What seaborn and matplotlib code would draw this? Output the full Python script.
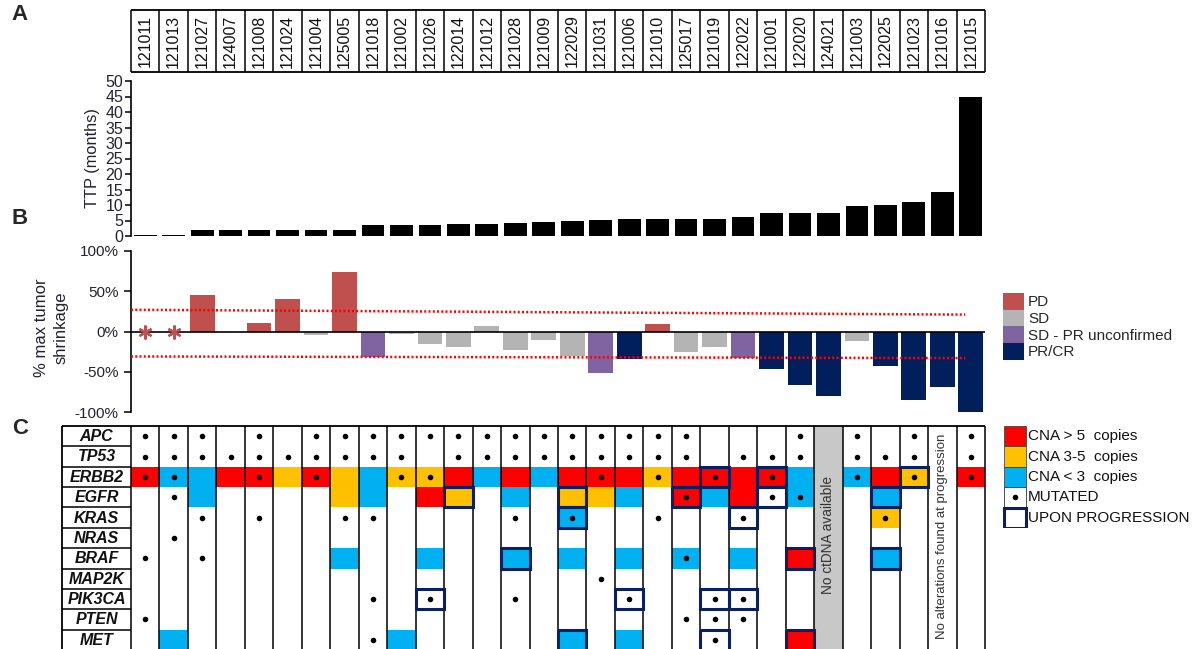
import numpy as np
import pandas as pd
import matplotlib
matplotlib.use("Agg")
import matplotlib.pyplot as plt
import seaborn as sns
from matplotlib.patches import Rectangle, Patch

sns.set_theme(style="white")
plt.rcParams['font.family'] = ['Liberation Sans', 'DejaVu Sans']

# patients, in order of TTP
patients = ["121011", "121013", "121027", "124007", "121008", "121024", "121004", "125005",
            "121018", "121002", "121026", "122014", "121012", "121028", "121009", "122029",
            "121031", "121006", "121010", "125017", "121019", "122022", "121001", "122020",
            "124021", "121003", "122025", "121023", "121016", "121015"]

# panel A: time to progression (months)
ttp_months = [0.4, 0.4, 1.8, 1.8, 2.0, 2.0, 2.0, 2.0, 3.7, 3.7, 3.7, 3.8, 3.8, 4.3, 4.6, 4.9,
              5.1, 5.4, 5.4, 5.4, 5.6, 6.0, 7.3, 7.3, 7.3, 9.6, 9.9, 11.0, 14.2, 45.0]

# panel B: % max tumor shrinkage and response
shrinkage = [np.nan, np.nan, 45, np.nan, 10, 40, -4, 74, -32, -2.5, -15, -19, 7, -22.5, -10, -30,
             -52, -34, 9, -25, -19, -33, -46, -67, -80, -12, -43, -85, -69, -100]
response = [None, None, "PD", None, "PD", "PD", "SD", "PD", "SD - PR unconfirmed", "SD", "SD", "SD",
            "SD", "SD", "SD", "SD", "SD - PR unconfirmed", "PR/CR", "PD", "SD", "SD",
            "SD - PR unconfirmed", "PR/CR", "PR/CR", "PR/CR", "SD", "PR/CR", "PR/CR", "PR/CR", "PR/CR"]
resp_order = ["PD", "SD", "SD - PR unconfirmed", "PR/CR"]
resp_colors = ["#C0504D", "#B4B4B4", "#8064A2", "#001F5C"]
not_evaluable = ["121011", "121013"]
pd_cutoff = [27, 21]
pr_cutoff = [-31, -33]

# panel C: ctDNA alterations, one string per gene (one char per patient)
genes = ["APC", "TP53", "ERBB2", "EGFR", "KRAS", "NRAS", "BRAF", "MAP2K", "PIK3CA", "PTEN", "MET"]
# R: CNA > 5, O: CNA 3-5, B: CNA < 3
cna_rows = [
    "..............................",
    "..............................",
    "RBBRROROBOORBRBRRRORRRRB.BRO.R",
    "..B....OB.RO.B.OOB.RBR.B..B...",
    "...............B..........O...",
    "..............................",
    ".......B..B..B.B.B.B.B.R..B...",
    "..............................",
    "..............................",
    "..............................",
    ".B.......B.....B.B.....R......",
]
# x: mutated
mut_rows = [
    "xxx.x.xxxxxxxxxxxxxx...x.x.x.x",
    "xxxxxxxxxx.xxxxxxxxx.xxx.xxx.x",
    "xx..x.x..xx.....x.x.x.x..x.x.x",
    ".x.................x..xx......",
    "..x.x..xx....x.x..x..x....x...",
    ".x............................",
    "x.x................x..........",
    "................x.............",
    "........x.x..x...x..xx........",
    "x..................xxx........",
    "........x...........x.........",
]
# p: found upon progression
prog_rows = [
    "..............................",
    "..............................",
    "....................p.p....p..",
    "...........p...p...p..p...p...",
    "...............p.....p........",
    "..............................",
    ".............p.........p..p...",
    "..............................",
    "..........p......p..pp........",
    "..............................",
    "...............p....p..p......",
]
cna_codes = "ROB"
cna_colors = ["#FF0000", "#FFC000", "#00B0F0"]
cna_labels = ["CNA > 5  copies", "CNA 3-5  copies", "CNA < 3  copies"]
no_ctdna = "124021"
no_alterations = "121016"
navy = "#0A2060"

W, H = 1194, 649
fig = plt.figure(figsize=(W / 100, H / 100), dpi=100)


def px_axes(x0, y0, x1, y1):
    return fig.add_axes([x0 / W, 1 - y1 / H, (x1 - x0) / W, (y1 - y0) / H])


n = len(patients)
X0, X1 = 131, 985

# header with patient ids
ax_h = px_axes(X0, 10, X1, 72)
ax_h.set_xlim(-0.5, n - 0.5)
ax_h.set_ylim(0, 1)
ax_h.axis('off')
for i, p in enumerate(patients):
    ax_h.text(i, 0.5, p, rotation=90, ha='center', va='center', fontsize=11.5, color='#111111')
ax_h.vlines(np.arange(n + 1) - 0.5, 0, 1, color='black', lw=1.1, clip_on=False)
ax_h.hlines([0, 1], -0.5, n - 0.5, color='black', lw=1.3, clip_on=False)

# A: TTP bars
ax_t = px_axes(X0, 81, X1, 236)
sns.barplot(x=patients, y=ttp_months, order=patients, color='black', width=0.8,
            saturation=1, linewidth=0, ax=ax_t)
ax_t.set_xlim(-0.5, n - 0.5)
ax_t.set_ylim(0, 50)
ax_t.set_yticks(range(0, 51, 5))
ax_t.set_xticks([])
ax_t.set_xlabel('')
for s in ['top', 'right', 'bottom']:
    ax_t.spines[s].set_visible(False)
ax_t.spines['left'].set_color('black')
ax_t.spines['left'].set_linewidth(1.2)
ax_t.tick_params(axis='y', left=True, direction='out', length=4, width=1.1,
                 labelsize=11.5, pad=1.5, colors='black', labelcolor='#222233')
fig.text(92 / W, 1 - 158 / H, "TTP (months)", rotation=90, ha='center', va='center',
         fontsize=11.8, color='#222233')

# B: waterfall
wf = pd.DataFrame({'patient': patients, 'shrink': shrinkage, 'response': response})
wf = wf.dropna(subset=['shrink'])
ax_w = px_axes(X0, 251, X1, 412)
sns.barplot(data=wf, x='patient', y='shrink', hue='response', order=patients,
            hue_order=resp_order, palette=dict(zip(resp_order, resp_colors)), dodge=False,
            width=0.87, saturation=1, linewidth=0, legend=False, ax=ax_w)
ax_w.set_xlim(-0.5, n - 0.5)
ax_w.set_ylim(-100, 100)
ax_w.set_yticks([-100, -50, 0, 50, 100])
ax_w.set_yticklabels([f"{v}%" for v in [-100, -50, 0, 50, 100]])
ax_w.set_xticks([])
ax_w.set_xlabel('')
ax_w.set_ylabel('')
for s in ['top', 'right', 'bottom']:
    ax_w.spines[s].set_visible(False)
ax_w.spines['left'].set_color('black')
ax_w.spines['left'].set_linewidth(1.2)
ax_w.tick_params(axis='y', left=True, direction='out', length=5, width=1.1,
                 labelsize=11, pad=4, colors='black', labelcolor='#222233')
ax_w.axhline(0, color='black', lw=1.2, zorder=3)
ax_w.plot([-0.5, n - 1.2], pd_cutoff, color='red', lw=1.8, ls=(0, (0.8, 0.9)), zorder=4)
ax_w.plot([-0.5, n - 1.2], pr_cutoff, color='red', lw=1.8, ls=(0, (0.8, 0.9)), zorder=4)
ax_w.plot([patients.index(p) for p in not_evaluable], [0] * len(not_evaluable), ls='none',
          marker=(6, 2, 0), ms=10, mew=1.6, color=resp_colors[0], zorder=5)
fig.text(51 / W, 1 - 328 / H, "% max tumor\nshrinkage", rotation=90, ha='center', va='center',
         fontsize=12, linespacing=1.35, color='#222233')
ax_w.legend(handles=[Patch(color=c, lw=0) for c in resp_colors], labels=resp_order,
            loc='upper left', bbox_to_anchor=(1003 / W, 1 - 293 / H), bbox_transform=fig.transFigure,
            frameon=False, fontsize=11, handlelength=1.4, handleheight=1.3, labelspacing=0,
            handletextpad=0.25, borderpad=0, borderaxespad=0)

# C: oncoprint
ax_o = px_axes(62, 426, X1, 650)
col_w = (X1 - X0) / n
lab_w = (X0 - 62) / col_w
ax_o.set_xlim(-0.5 - lab_w, n - 0.5)
ax_o.set_ylim(len(genes), 0)
ax_o.axis('off')
for r, gene in enumerate(genes):
    ax_o.text(-0.5 - lab_w / 2, r + 0.52, gene, ha='center', va='center', fontsize=11.5,
              fontweight='bold', fontstyle='italic', color='#111111')
    for c in range(n):
        code = cna_rows[r][c]
        if code in cna_codes:
            ax_o.add_patch(Rectangle((c - 0.5, r), 1, 1, fc=cna_colors[cna_codes.index(code)],
                                     lw=0, zorder=2))
        if prog_rows[r][c] == 'p':
            ax_o.add_patch(Rectangle((c - 0.5, r), 1, 1, fill=False, ec=navy, lw=2.2, zorder=4))
    dots = [c for c in range(n) if mut_rows[r][c] == 'x']
    ax_o.scatter(dots, [r + 0.5] * len(dots), s=16, color='black', lw=0, zorder=5)

gc = patients.index(no_ctdna)
ax_o.add_patch(Rectangle((gc - 0.5, 0), 1, len(genes), fc='#C8C8C8', lw=0, zorder=2))
ax_o.text(gc, 5.35, "No ctDNA available", rotation=90, ha='center', va='center',
          fontsize=9.8, color='#333333', zorder=6)
ac = patients.index(no_alterations)
ax_o.text(ac, 5.4, "No alterations found at progression", rotation=90, ha='center', va='center',
          fontsize=9.5, color='#333333', zorder=6)

ax_o.vlines(np.arange(n + 1) - 0.5, 0, len(genes), color='black', lw=1.1, zorder=3, clip_on=False)
ax_o.vlines(-0.5 - lab_w, 0, len(genes), color='black', lw=1.3, zorder=3, clip_on=False)
ax_o.hlines(0, -0.5 - lab_w, n - 0.5, color='black', lw=1.3, zorder=3, clip_on=False)
ax_o.hlines(np.arange(1, len(genes) + 1), -0.5 - lab_w, -0.5, color='black', lw=1.1, zorder=3)

# C legend
ax_l = px_axes(1003, 426, 1194, 528)
ax_l.set_xlim(0, 191)
ax_l.set_ylim(102, 0)
ax_l.axis('off')
rh = 20.4
legend_labels = cna_labels + ["MUTATED", "UPON PROGRESSION"]
for k, col in enumerate(cna_colors):
    ax_l.add_patch(Rectangle((1, k * rh), 22, rh, fc=col, ec='#333333', lw=0.5))
ax_l.add_patch(Rectangle((1, 3 * rh), 22, rh, fc='white', ec='#333333', lw=0.6))
ax_l.scatter([12], [3.5 * rh], s=16, color='black', lw=0)
ax_l.add_patch(Rectangle((1, 4 * rh), 22, rh, fill=False, ec=navy, lw=2.2))
for k, lab in enumerate(legend_labels):
    ax_l.text(25, (k + 0.5) * rh, lab, ha='left', va='center', fontsize=11, color='#111111')

# panel letters
for letter, y in [("A", 15), ("B", 218), ("C", 428)]:
    fig.text(20 / W, 1 - y / H, letter, ha='center', va='center', fontsize=16, fontweight='bold')

fig.savefig("out.png", dpi=100)
